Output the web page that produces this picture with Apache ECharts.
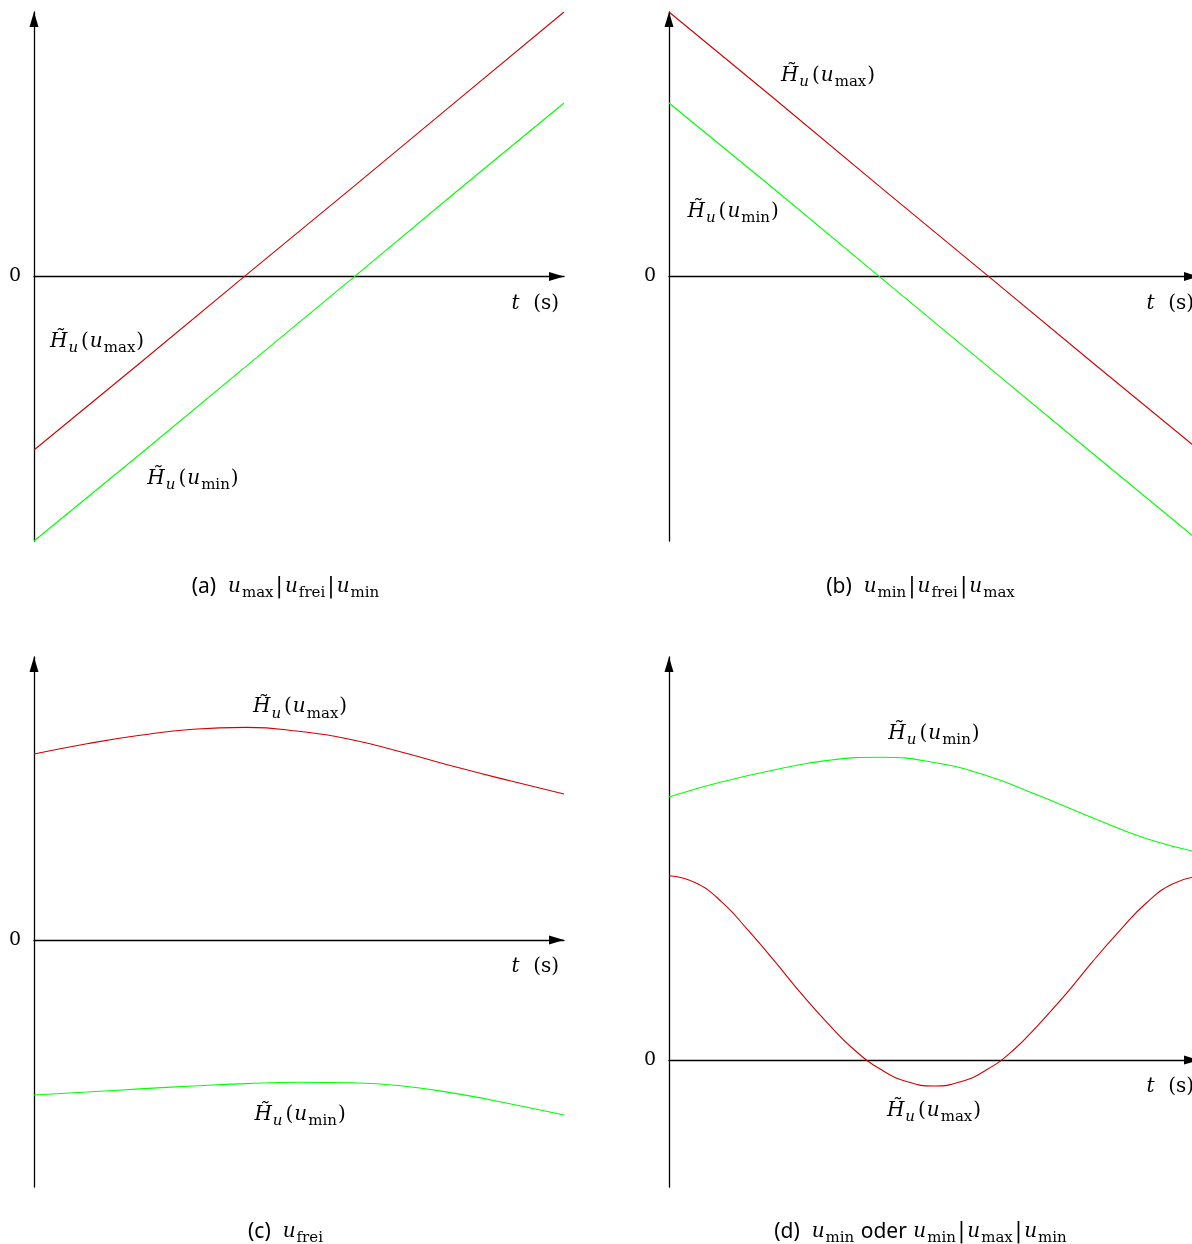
<!DOCTYPE html>
<html>
<head>
<meta charset="utf-8">
<script src="https://cdn.jsdelivr.net/npm/echarts@6/dist/echarts.min.js"></script>
<style>html,body{margin:0;padding:0;background:#fff;}#c{width:1192px;height:1244px;}</style>
</head>
<body>
<div id="c"></div>
<script>
// ---- data (t in arbitrary time units 0..10, H in arbitrary units) ----
const tLin = [0, 2, 4, 6, 8, 10];
const aMax = [-6.56, -3.27, 0.05, 3.35, 6.68, 10.0];
const aMin = [-10.0, -6.72, -3.40, -0.08, 3.26, 6.56];
const bMax = [10.0, 6.70, 3.36, 0.05, -3.27, -6.56];
const bMin = [6.56, 3.28, -0.05, -3.38, -6.70, -10.0];

const cT   = [0, 1, 2, 3, 4, 5, 6, 7, 8, 9, 10];
const cMax = [7.03, 7.42, 7.74, 7.97, 8.04, 7.89, 7.57, 7.07, 6.52, 6.01, 5.52];
const cMin = [-5.86, -5.75, -5.63, -5.52, -5.43, -5.38, -5.40, -5.53, -5.82, -6.20, -6.62];

const dT   = [0, 1, 2, 3, 4, 5, 6, 7, 8, 9, 10];
const dMin = [9.95, 10.52, 10.98, 11.33, 11.45, 11.25, 10.75, 9.98, 9.15, 8.38, 7.85];
const dMaxT = [0, 0.5, 1, 1.5, 2, 2.5, 3, 3.5, 4, 4.5, 5, 5.5, 6, 6.5, 7, 7.5, 8, 8.5, 9, 9.5, 10];
const dMax  = [6.97, 6.70, 5.97, 4.89, 3.72, 2.50, 1.38, 0.38, -0.36, -0.82, -0.98, -0.82, -0.36, 0.38, 1.40, 2.52, 3.74, 4.88, 5.93, 6.66, 6.95];

// y ranges per panel
const yRange = [[-10, 10], [-10, 10], [-9.34, 10.7], [-4.8, 15.24]];
const captions = [
  ['(a) ', 'max', 'frei', 'min'],
  ['(b) ', 'min', 'frei', 'max'],
  ['(c) ', 'frei'],
  ['(d) ', 'min', ' oder ', 'min', 'max', 'min']
];
// label anchor points [t, H] for curve names
const labelPos = {
  aMax: [1.19, -2.45], aMin: [3.0, -7.65],
  bMax: [3.0, 7.6], bMin: [1.21, 2.45],
  cMax: [5.02, 8.8], cMin: [5.02, -6.6],
  dMin: [5.0, 12.35], dMax: [5.0, -1.92]
};

const RED = '#d00000', GREEN = '#00ff00';
const SERIF = '"DejaVu Serif", "Liberation Serif", serif';
const SANS = '"Noto Sans", "DejaVu Sans", sans-serif';

const mathRich = {
  H: {fontFamily: SERIF, fontStyle: 'italic', fontSize: 20, lineHeight: 28, color: '#000', padding: [0, 1, 0, 0]},
  i: {fontFamily: SERIF, fontStyle: 'italic', fontSize: 20, lineHeight: 28, color: '#000', padding: [0, 1, 0, 1]},
  si: {fontFamily: SERIF, fontStyle: 'italic', fontSize: 15, lineHeight: 14, verticalAlign: 'bottom', color: '#000', padding: [0, 3, 0, 0]},
  p: {fontFamily: SERIF, fontSize: 20, lineHeight: 28, color: '#000'},
  bar: {fontFamily: SERIF, fontSize: 22, lineHeight: 28, color: '#000', padding: [0, 1, 0, 1]},
  s: {fontFamily: SERIF, fontSize: 15, lineHeight: 14, verticalAlign: 'bottom', color: '#000', padding: [0, 1, 0, 0]},
  sf: {fontFamily: SANS, fontSize: 21, lineHeight: 28, color: '#000'}
};

function hLabel(sub) {
  return '{H|H\u0303}{si|u}{p|(}{i|u}{s|' + sub + '}{p|)}';
}

const grids = [
  {left: 34, top: 12, width: 530, height: 529},
  {left: 669, top: 12, width: 530, height: 529},
  {left: 34, top: 657, width: 530, height: 530},
  {left: 669, top: 657, width: 530, height: 530}
];

const xAxes = grids.map((g, i) => ({
  type: 'value', gridIndex: i, min: 0, max: 10,
  axisLine: {onZero: true, lineStyle: {color: '#000', width: 1.3},
    symbol: ['none', 'triangle'], symbolSize: [9, 15], symbolOffset: [0, -7.5]},
  axisTick: {show: false}, axisLabel: {show: false}, splitLine: {show: false},
  name: '{i|t}{p|  (s)}', nameLocation: 'end', nameGap: 0,
  nameTextStyle: {align: 'right', verticalAlign: 'top', padding: [13, 5, 0, 0], rich: mathRich}
}));

const yAxes = grids.map((g, i) => ({
  type: 'value', gridIndex: i, min: yRange[i][0], max: yRange[i][1],
  axisLine: {onZero: false, lineStyle: {color: '#000', width: 1.3},
    symbol: ['none', 'triangle'], symbolSize: [9, 15], symbolOffset: [0, -7.5]},
  axisTick: {show: false}, splitLine: {show: false},
  axisLabel: {customValues: [0], formatter: v => '0', fontFamily: SERIF, fontSize: 19, color: '#000', margin: 13}
}));

function zip(xs, ys) { return xs.map((x, k) => [x, ys[k]]); }

function mkSeries(idx, xs, ys, color, smooth, labelKey, sub) {
  return {
    type: 'line', xAxisIndex: idx, yAxisIndex: idx, data: zip(xs, ys),
    showSymbol: false, smooth: smooth, silent: true, animation: false,
    lineStyle: {color: color, width: 1.1}, itemStyle: {color: color},
    markPoint: {
      symbol: 'circle', symbolSize: 0, silent: true, animation: false,
      data: [{coord: labelPos[labelKey]}],
      label: {show: true, position: 'inside', formatter: hLabel(sub), rich: mathRich}
    }
  };
}

const series = [
  mkSeries(0, tLin, aMax, RED, false, 'aMax', 'max'),
  mkSeries(0, tLin, aMin, GREEN, false, 'aMin', 'min'),
  mkSeries(1, tLin, bMax, RED, false, 'bMax', 'max'),
  mkSeries(1, tLin, bMin, GREEN, false, 'bMin', 'min'),
  mkSeries(2, cT, cMax, RED, 0.5, 'cMax', 'max'),
  mkSeries(2, cT, cMin, GREEN, 0.5, 'cMin', 'min'),
  mkSeries(3, dT, dMin, GREEN, 0.5, 'dMin', 'min'),
  mkSeries(3, dMaxT, dMax, RED, 0.5, 'dMax', 'max')
];

function captionText(c) {
  let s = '{sf|' + c[0] + ' }';
  let first = true;
  for (let k = 1; k < c.length; k++) {
    const part = c[k];
    if (part.startsWith(' ')) { s += '{sf|' + part + '}'; first = true; continue; }
    if (!first) s += '{bar||}';
    s += '{i|u}{s|' + part + '}';
    first = false;
  }
  return s;
}

const capPos = [[286, 587], [921, 587], [286, 1232], [921, 1232]];
const graphic = captions.map((c, i) => ({
  type: 'text', x: capPos[i][0], y: capPos[i][1],
  style: {text: captionText(c), align: 'center', verticalAlign: 'middle', rich: mathRich}
}));

const chart = echarts.init(document.getElementById('c'), null, {renderer: 'canvas'});
chart.setOption({
  backgroundColor: '#fff',
  animation: false,
  grid: grids.map(g => Object.assign({outerBoundsMode: 'none', containLabel: false}, g)),
  xAxis: xAxes,
  yAxis: yAxes,
  series: series,
  graphic: graphic
});
</script>
</body>
</html>
